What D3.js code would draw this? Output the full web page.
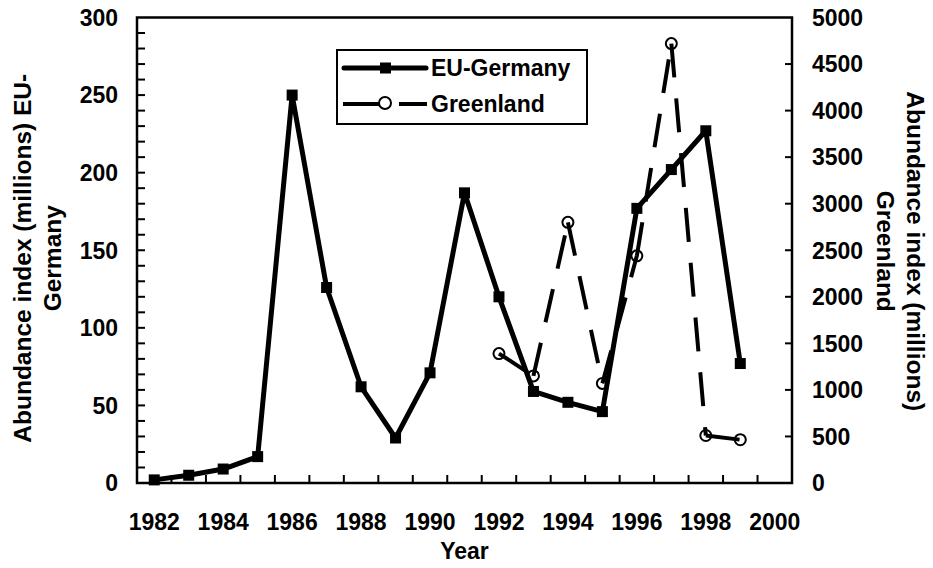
<!DOCTYPE html>
<html>
<head>
<meta charset="utf-8">
<script src="https://cdn.jsdelivr.net/npm/d3@7"></script>
<style>
body { margin: 0; background: #fff; }
text { font-family: "Liberation Sans", Arial, sans-serif; font-weight: bold; fill: #000; }
</style>
</head>
<body>
<svg id="chart" width="933" height="568"></svg>
<script>
var years = d3.range(1982, 2001);
var tickYears = [1982, 1984, 1986, 1988, 1990, 1992, 1994, 1996, 1998, 2000];
var germanyYears = d3.range(1982, 2000);
var germanyValues = [2, 5, 9, 17, 250, 126, 62, 29, 71, 187, 120, 59, 52, 46, 177, 202, 227, 77];
var greenlandYears = [1992, 1993, 1994, 1995, 1996, 1997, 1998, 1999];
var greenlandValues = [1390, 1150, 2800, 1070, 2440, 4720, 510, 465];
var leftTicks = [0, 50, 100, 150, 200, 250, 300];
var rightTicks = [0, 500, 1000, 1500, 2000, 2500, 3000, 3500, 4000, 4500, 5000];

var margin = { left: 137, right: 141, top: 17.5, bottom: 85 };
var svg = d3.select('#chart');
var W = 933, H = 568;
var x0 = margin.left, x1 = W - margin.right, y0 = H - margin.bottom, y1 = margin.top;

var x = d3.scaleBand().domain(years).range([x0, x1]);
var yLeft = d3.scaleLinear().domain([0, 300]).range([y0, y1]);
var yRight = d3.scaleLinear().domain([0, 5000]).range([y0, y1]);
var cx = function (yr) { return x(yr) + x.bandwidth() / 2; };

// frame
svg.append('rect')
    .attr('x', x0).attr('y', y1)
    .attr('width', x1 - x0).attr('height', y0 - y1)
    .attr('fill', 'none').attr('stroke', '#000').attr('stroke-width', 2.5);

// left axis: inside ticks every 10
svg.append('g').selectAll('line')
    .data(d3.range(10, 300, 10))
    .enter().append('line')
    .attr('x1', x0).attr('x2', x0 + 8)
    .attr('y1', function (d) { return yLeft(d); })
    .attr('y2', function (d) { return yLeft(d); })
    .attr('stroke', '#000').attr('stroke-width', 2);
svg.append('g').selectAll('text')
    .data(leftTicks)
    .enter().append('text')
    .attr('x', x0 - 19)
    .attr('y', function (d) { return yLeft(d); })
    .attr('dy', '0.36em')
    .attr('text-anchor', 'end')
    .style('font-size', '23px')
    .text(function (d) { return d; });

// right axis
svg.append('g').selectAll('line')
    .data(rightTicks.slice(1, -1))
    .enter().append('line')
    .attr('x1', x1).attr('x2', x1 - 7)
    .attr('y1', function (d) { return yRight(d); })
    .attr('y2', function (d) { return yRight(d); })
    .attr('stroke', '#000').attr('stroke-width', 2);
svg.append('g').selectAll('text')
    .data(rightTicks)
    .enter().append('text')
    .attr('x', x1 + 20)
    .attr('y', function (d) { return yRight(d); })
    .attr('dy', '0.36em')
    .style('font-size', '23px')
    .text(function (d) { return d; });

// bottom axis: ticks between categories
svg.append('g').selectAll('line')
    .data(years.slice(1))
    .enter().append('line')
    .attr('x1', function (d) { return x(d); })
    .attr('x2', function (d) { return x(d); })
    .attr('y1', y0).attr('y2', y0 - 8)
    .attr('stroke', '#000').attr('stroke-width', 2);
svg.append('g').selectAll('text')
    .data(tickYears)
    .enter().append('text')
    .attr('x', function (d) { return cx(d); })
    .attr('y', y0 + 47)
    .attr('text-anchor', 'middle')
    .style('font-size', '23px')
    .text(function (d) { return d; });

// axis titles
svg.append('text')
    .attr('x', (x0 + x1) / 2).attr('y', H - 9)
    .attr('text-anchor', 'middle')
    .style('font-size', '23px')
    .text('Year');

var lt = svg.append('text')
    .attr('transform', 'translate(31,' + ((y0 + y1) / 2 + 8) + ') rotate(-90)')
    .attr('text-anchor', 'middle')
    .style('font-size', '24.5px');
lt.append('tspan').attr('x', 0).attr('y', 0).text('Abundance index (millions) EU-');
lt.append('tspan').attr('x', 0).attr('y', 30).text('Germany');

var rt = svg.append('text')
    .attr('transform', 'translate(907,' + ((y0 + y1) / 2 + 1) + ') rotate(90)')
    .attr('text-anchor', 'middle')
    .style('font-size', '24.5px');
rt.append('tspan').attr('x', 0).attr('y', 0).text('Abundance index (millions)');
rt.append('tspan').attr('x', 0).attr('y', 30).text('Greenland');

// Greenland circles sit under the line
var green = greenlandYears.map(function (yr, i) {
    return { x: cx(yr), y: yRight(greenlandValues[i]) };
});
svg.append('g').selectAll('circle')
    .data(green)
    .enter().append('circle')
    .attr('cx', function (d) { return d.x; })
    .attr('cy', function (d) { return d.y; })
    .attr('r', 5.5)
    .attr('fill', '#fff').attr('stroke', '#000').attr('stroke-width', 2);

// each segment restarts the dash pattern
svg.append('g').selectAll('line')
    .data(d3.pairs(green))
    .enter().append('line')
    .attr('x1', function (d) { return d[0].x; })
    .attr('y1', function (d) { return d[0].y; })
    .attr('x2', function (d) { return d[1].x; })
    .attr('y2', function (d) { return d[1].y; })
    .attr('stroke', '#000').attr('stroke-width', 4)
    .attr('stroke-dasharray', '34,21');

// EU-Germany
var line = d3.line()
    .x(function (d, i) { return cx(germanyYears[i]); })
    .y(function (d) { return yLeft(d); });
svg.append('path')
    .datum(germanyValues)
    .attr('d', line)
    .attr('fill', 'none').attr('stroke', '#000')
    .attr('stroke-width', 5).attr('stroke-linejoin', 'round');
svg.append('g').selectAll('rect')
    .data(germanyValues)
    .enter().append('rect')
    .attr('x', function (d, i) { return cx(germanyYears[i]) - 5.5; })
    .attr('y', function (d) { return yLeft(d) - 5.5; })
    .attr('width', 11).attr('height', 11)
    .attr('fill', '#000');

// legend
var lg = svg.append('g');
lg.append('rect')
    .attr('x', 337).attr('y', 50).attr('width', 250).attr('height', 74)
    .attr('fill', '#fff').attr('stroke', '#000').attr('stroke-width', 2);
lg.append('line')
    .attr('x1', 344).attr('x2', 426).attr('y1', 68).attr('y2', 68)
    .attr('stroke', '#000').attr('stroke-width', 5).attr('stroke-linecap', 'round');
lg.append('rect')
    .attr('x', 380).attr('y', 62.5).attr('width', 11).attr('height', 11).attr('fill', '#000');
lg.append('text').attr('x', 431).attr('y', 76).style('font-size', '23px').text('EU-Germany');
lg.append('line')
    .attr('x1', 343).attr('x2', 427).attr('y1', 104).attr('y2', 104)
    .attr('stroke', '#000').attr('stroke-width', 4)
    .attr('stroke-dasharray', '42,14,28');
lg.append('circle')
    .attr('cx', 385).attr('cy', 103).attr('r', 6)
    .attr('fill', '#fff').attr('stroke', '#000').attr('stroke-width', 2);
lg.append('text').attr('x', 431).attr('y', 112).style('font-size', '23px').text('Greenland');
</script>
</body>
</html>
